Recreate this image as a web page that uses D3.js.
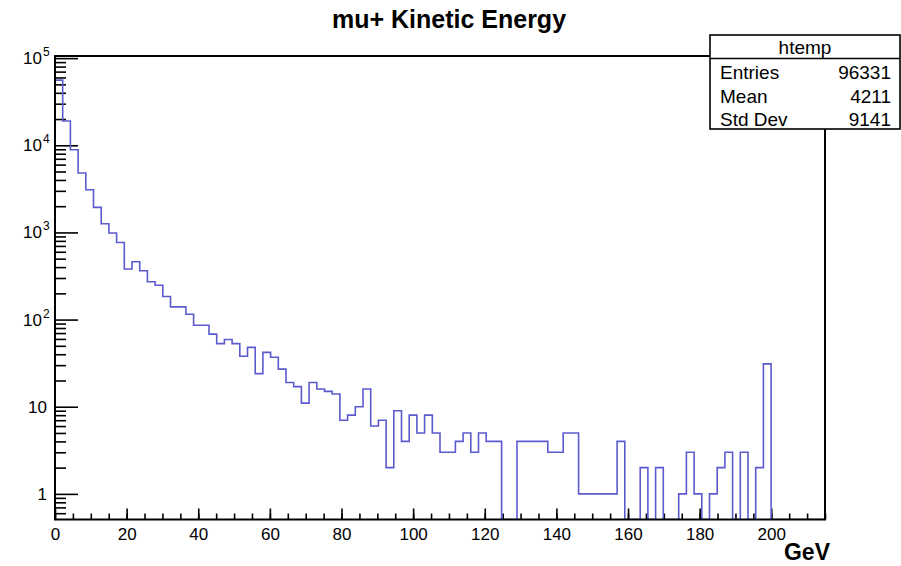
<!DOCTYPE html>
<html>
<head>
<meta charset="utf-8">
<script src="https://cdn.jsdelivr.net/npm/d3@7"></script>
<style>
  body { margin: 0; background: #fff; }
  text { font-family: "Liberation Sans", Arial, Helvetica, sans-serif; fill: #000; }
</style>
</head>
<body>
<div id="viz"></div>
<script>
// histogram contents, 100 bins from xLow to xHigh (GeV)
var counts = [
  56000, 19000, 8900, 4810, 3090, 1940, 1260, 985, 767, 380,
  461, 363, 272, 248, 184, 140, 140, 115, 86, 86,
  68, 53, 59, 53, 38, 48, 24, 42, 37, 27,
  19, 17, 11, 19, 16, 15, 14, 7, 8, 10,
  16, 6, 7, 2, 9, 4, 8, 5, 8, 5,
  3, 3, 4, 5, 3, 5, 4, 4, 0, 0,
  4, 4, 4, 4, 3, 3, 5, 5, 1, 1,
  1, 1, 1, 4, 0, 0, 2, 0, 2, 0,
  0, 1, 3, 1, 0, 1, 2, 3, 0, 3,
  0, 2, 31, 0, 0, 0, 0, 0, 0, 0
];
var xLow = 0, xHigh = 215;
var xMajorTicks = [0, 20, 40, 60, 80, 100, 120, 140, 160, 180, 200];
var yDecades = [1, 10, 100, 1000, 10000, 100000];
var statNames = ["Entries", "Mean", "Std Dev"];
var statValues = ["96331", "4211", "9141"];
var histName = "htemp";
var chartTitle = "mu+ Kinetic Energy";
var xTitle = "GeV";

var W = 901, H = 566;
var frame = { left: 55, right: 825, top: 56, bottom: 519.5 };

var svg = d3.select('#viz').append('svg')
  .attr('width', W)
  .attr('height', H);

svg.append('rect').attr('width', W).attr('height', H).attr('fill', '#fff');

var x = d3.scaleLinear().domain([xLow, xHigh]).range([frame.left, frame.right]);
var y = d3.scaleLog().domain([0.508, 105800]).range([frame.bottom, frame.top]);

// x ticks (inward)
var xMinor = [];
for (var v = xLow; v <= xHigh; v += 5) xMinor.push(v);

svg.append('g')
  .attr('transform', 'translate(0,' + frame.bottom + ')')
  .call(d3.axisBottom(x).tickValues(xMinor).tickSize(-6).tickFormat(''));
var xMajorAxis = svg.append('g')
  .attr('transform', 'translate(0,' + frame.bottom + ')')
  .call(d3.axisBottom(x).tickValues(xMajorTicks).tickSize(-11)
        .tickFormat(d3.format('d')));

xMajorAxis.selectAll('text')
  .attr('font-size', 17)
  .attr('dy', 0)
  .attr('y', 20.5);

// y ticks (inward)
var yMinor = [];
[0.1, 1, 10, 100, 1000, 10000].forEach(function(d) {
  for (var m = 2; m <= 9; m++) {
    var t = m * d;
    if (t >= y.domain()[0] && t <= y.domain()[1]) yMinor.push(t);
  }
});
svg.append('g')
  .attr('transform', 'translate(' + frame.left + ',0)')
  .call(d3.axisLeft(y).tickValues(yMinor).tickSize(-11).tickFormat(''));
svg.append('g')
  .attr('transform', 'translate(' + frame.left + ',0)')
  .call(d3.axisLeft(y).tickValues(yDecades).tickSize(-23).tickFormat(''));

svg.selectAll('.domain').remove();
svg.selectAll('.tick line').attr('stroke', '#000').attr('stroke-width', 1.6);

// y labels: 1, 10, then 10^n
yDecades.forEach(function(d) {
  var p = Math.round(Math.log10(d));
  var yy = y(d) + 6;
  if (p < 2) {
    svg.append('text')
      .attr('x', 47).attr('y', yy)
      .attr('text-anchor', 'end')
      .attr('font-size', 17)
      .text(d);
  } else {
    svg.append('text')
      .attr('x', 42).attr('y', yy)
      .attr('text-anchor', 'end')
      .attr('font-size', 17)
      .text('10');
    svg.append('text')
      .attr('x', 43).attr('y', yy - 8)
      .attr('font-size', 12)
      .text(p);
  }
});

// histogram outline
var bw = (xHigh - xLow) / counts.length;
var yb = frame.bottom;
var pts = [[x(xLow), yb]];
counts.forEach(function(c, i) {
  var yy = c > 0 ? y(c) : yb;
  pts.push([x(xLow + i * bw), yy]);
  pts.push([x(xLow + (i + 1) * bw), yy]);
});
pts.push([x(xHigh), yb]);

svg.append('clipPath').attr('id', 'clip')
  .append('rect')
  .attr('x', frame.left).attr('y', frame.top)
  .attr('width', frame.right - frame.left)
  .attr('height', frame.bottom - frame.top);

svg.append('path')
  .attr('clip-path', 'url(#clip)')
  .attr('d', d3.line()(pts))
  .attr('fill', 'none')
  .attr('stroke', '#5b5bcf')
  .attr('stroke-width', 1.6);

// frame
svg.append('rect')
  .attr('x', frame.left).attr('y', frame.top)
  .attr('width', frame.right - frame.left)
  .attr('height', frame.bottom - frame.top)
  .attr('fill', 'none')
  .attr('stroke', '#000')
  .attr('stroke-width', 2);

// title
svg.append('text')
  .attr('x', 449).attr('y', 28)
  .attr('text-anchor', 'middle')
  .attr('font-size', 25)
  .attr('font-weight', 'bold')
  .text(chartTitle);

svg.append('text')
  .attr('x', 830).attr('y', 560)
  .attr('text-anchor', 'end')
  .attr('font-size', 23)
  .attr('font-weight', 'bold')
  .text(xTitle);

// stats box
var box = svg.append('g');
box.append('rect')
  .attr('x', 710).attr('y', 35)
  .attr('width', 190).attr('height', 94)
  .attr('fill', '#fff')
  .attr('stroke', '#000')
  .attr('stroke-width', 1.6);
box.append('line')
  .attr('x1', 710).attr('x2', 900)
  .attr('y1', 58.5).attr('y2', 58.5)
  .attr('stroke', '#000')
  .attr('stroke-width', 1.6);
box.append('text')
  .attr('x', 805).attr('y', 53.5)
  .attr('text-anchor', 'middle')
  .attr('font-size', 19)
  .text(histName);
statNames.forEach(function(n, i) {
  box.append('text')
    .attr('x', 720).attr('y', 79 + i * 23.5)
    .attr('font-size', 19)
    .text(n);
  box.append('text')
    .attr('x', 891).attr('y', 79 + i * 23.5)
    .attr('text-anchor', 'end')
    .attr('font-size', 19)
    .text(statValues[i]);
});
</script>
</body>
</html>
